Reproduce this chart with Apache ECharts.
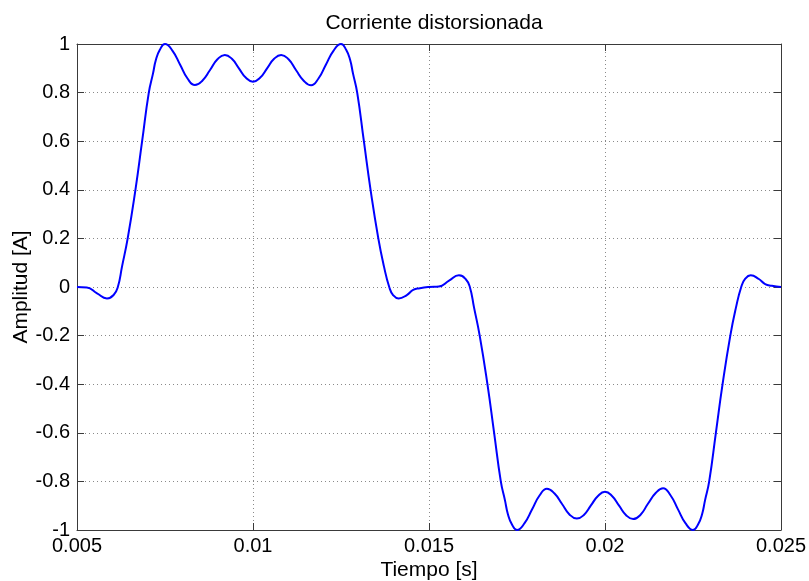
<!DOCTYPE html>
<html>
<head>
<meta charset="utf-8">
<script src="https://cdn.jsdelivr.net/npm/echarts@6/dist/echarts.min.js"></script>
<style>
html,body{margin:0;padding:0;background:#fff;}
#chart{width:809px;height:581px;}
</style>
</head>
<body>
<div id="chart"></div>
<script>
// Time samples [s]
var tiempo = [
  0.0050, 0.00528, 0.00557, 0.00585, 0.00604, 0.00616, 0.00628, 0.00644, 0.00666, 0.00685,
  0.00704, 0.00716, 0.00724, 0.00735, 0.00750,
  0.00771, 0.00793, 0.00814, 0.00835, 0.00856, 0.00878, 0.00899, 0.00920,
  0.00940, 0.00960, 0.00980, 0.01000, 0.01020, 0.01040, 0.01060, 0.01080,
  0.01101, 0.01122, 0.01144, 0.01165, 0.01186, 0.01207, 0.01229, 0.01250,
  0.01265, 0.01276, 0.01284, 0.01296, 0.01315,
  0.01334, 0.01356, 0.01372, 0.01387, 0.01398, 0.01414, 0.01437, 0.01455, 0.01474, 0.01500,
  0.01528, 0.01557, 0.01585, 0.01604, 0.01616, 0.01628, 0.01644, 0.01666, 0.01685,
  0.01704, 0.01716, 0.01724, 0.01735, 0.01750,
  0.01771, 0.01793, 0.01814, 0.01835, 0.01856, 0.01878, 0.01899, 0.01920,
  0.01940, 0.01960, 0.01980, 0.02000, 0.02020, 0.02040, 0.02060, 0.02080,
  0.02101, 0.02122, 0.02144, 0.02165, 0.02186, 0.02207, 0.02229, 0.02250,
  0.02265, 0.02276, 0.02284, 0.02296, 0.02315,
  0.02334, 0.02356, 0.02372, 0.02387, 0.02398, 0.02414, 0.02437, 0.02455, 0.02474, 0.02500
];
// Amplitude [A]
var amplitud = [
  0.000, -0.002, -0.026, -0.047, -0.033, 0.000, 0.085, 0.200, 0.400, 0.600,
  0.800, 0.879, 0.934, 0.975, 1.000,
  0.973, 0.915, 0.858, 0.831, 0.849, 0.893, 0.937, 0.955,
  0.939, 0.900, 0.861, 0.845, 0.861, 0.900, 0.939, 0.955,
  0.937, 0.893, 0.849, 0.830, 0.858, 0.915, 0.973, 1.000,
  0.975, 0.934, 0.879, 0.800, 0.600,
  0.400, 0.200, 0.085, 0.000, -0.033, -0.047, -0.033, -0.012, -0.005, 0.000,
  0.002, 0.026, 0.048, 0.033, 0.000, -0.085, -0.200, -0.400, -0.600,
  -0.800, -0.879, -0.934, -0.975, -1.000,
  -0.973, -0.915, -0.858, -0.830, -0.849, -0.893, -0.936, -0.953,
  -0.938, -0.899, -0.860, -0.843, -0.860, -0.900, -0.939, -0.955,
  -0.937, -0.892, -0.848, -0.828, -0.857, -0.914, -0.973, -1.000,
  -0.975, -0.934, -0.879, -0.800, -0.600,
  -0.400, -0.200, -0.085, 0.000, 0.033, 0.048, 0.033, 0.012, 0.005, 0.000
];
var xTicks = ['0.005', '0.01', '0.015', '0.02', '0.025'];
var yTicks = ['-1', '-0.8', '-0.6', '-0.4', '-0.2', '0', '0.2', '0.4', '0.6', '0.8', '1'];

var data = tiempo.map(function (t, i) { return [t, amplitud[i]]; });
var FONT = '"Liberation Sans", Arial, Helvetica, sans-serif';

function fmt(list, v) {
  var s = String(parseFloat(v.toFixed(4)));
  return list.indexOf(s) >= 0 ? s : '';
}

var chart = echarts.init(document.getElementById('chart'), null, {renderer: 'canvas'});
var axisLineStyle = {color: '#3a3a3a', width: 1};
var gridStyle = {show: true, lineStyle: {color: '#8a8a8a', width: 1, type: [1, 3]}};
chart.setOption({
  animation: false,
  backgroundColor: '#ffffff',
  title: {
    text: 'Corriente distorsionada',
    left: 429, top: 8, textAlign: 'center',
    textStyle: {fontFamily: FONT, fontSize: 21, fontWeight: 'normal', color: '#000'}
  },
  grid: {left: 77, right: 28, top: 44, bottom: 51, outerBoundsMode: 'none', containLabel: false},
  xAxis: [{
    type: 'value', min: 0.005, max: 0.025, interval: 0.005, position: 'bottom',
    name: 'Tiempo [s]', nameLocation: 'middle', nameGap: 30, nameMoveOverlap: false,
    nameTextStyle: {fontFamily: FONT, fontSize: 21, color: '#000'},
    axisLine: {show: true, onZero: false, lineStyle: axisLineStyle},
    axisTick: {show: true, inside: true, length: 7, lineStyle: axisLineStyle},
    axisLabel: {fontFamily: FONT, fontSize: 20, color: '#000', margin: 6,
      formatter: function (v) { return fmt(xTicks, v); }},
    splitLine: gridStyle
  }, {
    type: 'value', min: 0.005, max: 0.025, interval: 0.005, position: 'top',
    axisLine: {show: true, onZero: false, lineStyle: axisLineStyle},
    axisTick: {show: true, inside: true, length: 7, lineStyle: axisLineStyle},
    axisLabel: {show: false}, splitLine: {show: false}
  }],
  yAxis: [{
    type: 'value', min: -1, max: 1, interval: 0.2, position: 'left',
    name: 'Amplitud [A]', nameLocation: 'middle', nameGap: 45, nameMoveOverlap: false,
    nameTextStyle: {fontFamily: FONT, fontSize: 21, color: '#000'},
    axisLine: {show: true, onZero: false, lineStyle: axisLineStyle},
    axisTick: {show: true, inside: true, length: 7, lineStyle: axisLineStyle},
    axisLabel: {fontFamily: FONT, fontSize: 20, color: '#000', margin: 7,
      formatter: function (v) { return fmt(yTicks, v); }},
    splitLine: gridStyle
  }, {
    type: 'value', min: -1, max: 1, interval: 0.2, position: 'right',
    axisLine: {show: true, onZero: false, lineStyle: axisLineStyle},
    axisTick: {show: true, inside: true, length: 7, lineStyle: axisLineStyle},
    axisLabel: {show: false}, splitLine: {show: false}
  }],
  series: [{
    type: 'line', data: data, xAxisIndex: 0, yAxisIndex: 0,
    smooth: 0.5, showSymbol: false, clip: true,
    lineStyle: {color: '#0000ff', width: 2}
  }]
});
</script>
</body>
</html>
